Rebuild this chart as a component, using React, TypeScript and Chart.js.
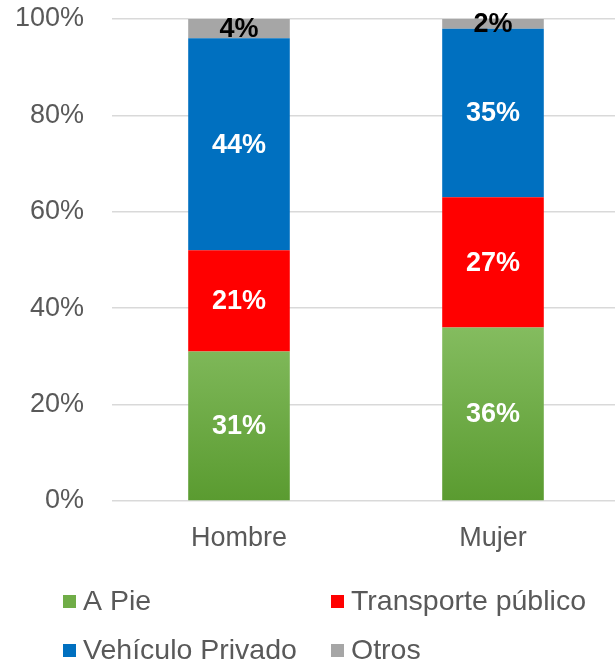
import React, { useEffect, useRef } from "react";
import { Chart, registerables } from "chart.js";

Chart.register(...registerables);

const categories = ["Hombre", "Mujer"];
const aPie = [31, 36];
const transportePublico = [21, 27];
const vehiculoPrivado = [44, 35];
const otros = [4, 2];
const yTicks = [0, 20, 40, 60, 80, 100];

const seriesNames = ["A Pie", "Transporte público", "Vehículo Privado", "Otros"];
const seriesColors = ["#70ad47", "#ff0000", "#0070c0", "#a6a6a6"];
const labelColors = ["#ffffff", "#ffffff", "#ffffff", "#000000"];

const FONT = "'Liberation Sans', Arial, sans-serif";

export default function App() {
  const ref = useRef<HTMLCanvasElement | null>(null);
  useEffect(() => {
    if (!ref.current) return;

    const labelPlugin = {
      id: "segLabels",
      afterDatasetsDraw(chart: any) {
        const ctx = chart.ctx;
        ctx.save();
        ctx.font = `bold 27px ${FONT}`;
        ctx.textAlign = "center";
        ctx.textBaseline = "middle";
        chart.data.datasets.forEach((ds: any, i: number) => {
          const meta = chart.getDatasetMeta(i);
          meta.data.forEach((el: any, j: number) => {
            const v = ds.data[j];
            ctx.fillStyle = labelColors[i];
            const y = (el.y + el.base) / 2;
            ctx.fillText(v + "%", el.x, y + 1);
          });
        });
        ctx.restore();
      },
    };

    const legendPlugin = {
      id: "customLegend",
      afterDraw(chart: any) {
        const ctx = chart.ctx;
        ctx.save();
        ctx.font = `28.5px ${FONT}`;
        ctx.textBaseline = "middle";
        ctx.textAlign = "left";
        const pos = [
          [63, 601],
          [331, 601],
          [63, 650],
          [331, 650],
        ];
        seriesNames.forEach((name, i) => {
          const [x, y] = pos[i];
          ctx.fillStyle = seriesColors[i];
          ctx.fillRect(x, y - 6, 13, 13);
          ctx.fillStyle = "#595959";
          ctx.fillText(name, x + 20, y + 1);
        });
        ctx.restore();
      },
    };

    const greenFill = (c: any) => {
      const chart = c.chart;
      const area = chart.chartArea;
      if (!area) return seriesColors[0];
      const h = area.bottom - area.top;
      const g = chart.ctx.createLinearGradient(0, area.bottom, 0, area.bottom - 0.36 * h);
      g.addColorStop(0, "#5a9b30");
      g.addColorStop(1, "#84bc5f");
      return g;
    };

    const chart = new Chart(ref.current, {
      type: "bar",
      data: {
        labels: categories,
        datasets: [
          { label: seriesNames[0], data: aPie, backgroundColor: greenFill },
          { label: seriesNames[1], data: transportePublico, backgroundColor: seriesColors[1] },
          { label: seriesNames[2], data: vehiculoPrivado, backgroundColor: seriesColors[2] },
          { label: seriesNames[3], data: otros, backgroundColor: seriesColors[3] },
        ],
      },
      options: {
        animation: false,
        responsive: true,
        maintainAspectRatio: false,
        layout: { padding: 0 },
        datasets: { bar: { categoryPercentage: 1, barPercentage: 0.4 } },
        plugins: { legend: { display: false }, tooltip: { enabled: false } },
        scales: {
          x: {
            stacked: true,
            grid: { display: false },
            border: { display: false },
            ticks: { color: "#595959", font: { family: FONT, size: 27 }, padding: 13 },
            afterFit: (s: any) => {
              s.height = 164;
            },
          },
          y: {
            stacked: true,
            min: 0,
            max: 100,
            afterBuildTicks: (s: any) => {
              s.ticks = yTicks.map((v) => ({ value: v }));
            },
            grid: { color: "#d9d9d9", lineWidth: 1.5, drawTicks: false },
            border: { display: false },
            ticks: {
              color: "#595959",
              font: { family: FONT, size: 27 },
              padding: 28,
              callback: (v: any) => v + "%",
            },
            afterFit: (s: any) => {
              s.width = 112;
              s.paddingTop = 19;
              s.paddingBottom = 16;
            },
          },
        },
      },
      plugins: [labelPlugin, legendPlugin],
    });
    return () => chart.destroy();
  }, []);

  return (
    <div style={{ position: "absolute", left: 0, top: 0, width: 615, height: 665, overflow: "hidden", background: "#fff" }}>
      <div style={{ position: "relative", width: 620, height: 665 }}>
        <canvas ref={ref} />
      </div>
    </div>
  );
}
